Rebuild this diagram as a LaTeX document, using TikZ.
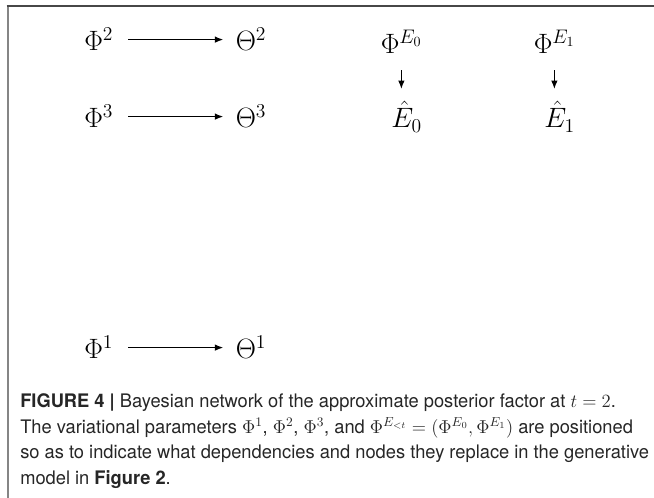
\RequirePackage{fix-cm}
\documentclass[tikz,border=0pt]{standalone}
\usepackage[no-math]{fontspec}
\newfontfamily\capfont[FakeStretch=0.98]{TeX Gyre Heros}
\usetikzlibrary{arrows.meta}
\begin{document}
\begin{tikzpicture}[x=0.75pt,y=-0.75pt,
  m/.style={inner sep=0pt, anchor=base west, font=\fontsize{21}{25}\selectfont},
  arr/.style={-{Latex[length=6.5pt,width=5pt]}, line width=1.2pt},
  captext/.style={inner sep=0pt, anchor=base west, font=\capfont\fontsize{14}{17}\selectfont, text=black!85}]
\useasboundingbox (0,0) rectangle (654,498);
\draw[line width=1.5pt, black!48] (7.5,6) -- (7.5,498);
\draw[line width=1.1pt, black!72] (6.5,6) -- (654,6);
% nodes
\node[m] (p2) at (84,51) {$\Phi^2$};
\node[m] (t2) at (235.5,51) {$\Theta^2$};
\node[m] (p3) at (84,128) {$\Phi^3$};
\node[m] (t3) at (235.5,128) {$\Theta^3$};
\node[m] (p1) at (84,359) {$\Phi^1$};
\node[m] (t1) at (235.5,359) {$\Theta^1$};
\node[m] (pe0) at (380.5,54) {$\Phi^{E_0}$};
\node[m] (pe1) at (533.5,54) {$\Phi^{E_1}$};
\node[m] (e0) at (391,128) {$\hat{E}_0$};
\node[m] (e1) at (544,128) {$\hat{E}_1$};
% arrows
\draw[arr, shorten <=11.25pt, shorten >=9pt] (p2.east) -- (t2.west);
\draw[arr, shorten <=11.25pt, shorten >=9pt] (p3.east) -- (t3.west);
\draw[arr, shorten <=11.25pt, shorten >=9pt] (p1.east) -- (t1.west);
\draw[arr, shorten <=12pt, shorten >=9pt] (pe0.south) -- (pe0.south |- e0.north);
\draw[arr, shorten <=12pt, shorten >=9pt] (pe1.south) -- (pe1.south |- e1.north);
% caption
\node[captext] (c1) at (20,408) {\textbf{FIGURE 4 |} Bayesian network of the approximate posterior factor at $t=2$.};
\node[captext] (c2) at (20,433.5) {The variational parameters $\Phi^1$, $\Phi^2$, $\Phi^3$, and $\Phi^{E_{<t}}=(\Phi^{E_0},\Phi^{E_1})$ are positioned};
\node[captext] (c3) at (20,459) {so as to indicate what dependencies and nodes they replace in the generative};
\node[captext] (c4) at (20,484.5) {model in \textbf{Figure 2}.};
\end{tikzpicture}
\end{document}
